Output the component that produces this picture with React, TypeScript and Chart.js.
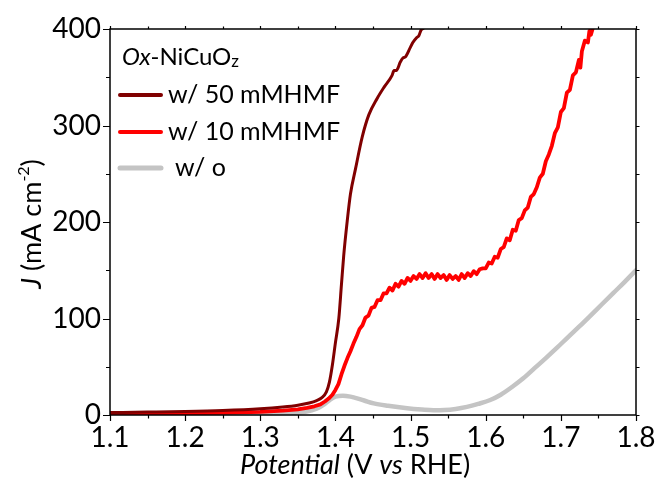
import React, { useEffect, useRef } from "react";
import { Chart, registerables } from "chart.js";

Chart.register(...registerables);

const FONT = 'Lato, "Open Sans", sans-serif';

// Potential axis (V vs RHE) and current-density axis (mA cm^-2)
const xTicks = [1.1, 1.2, 1.3, 1.4, 1.5, 1.6, 1.7, 1.8];
const yTicks = [0, 100, 200, 300, 400];

// w/ 50 mM HMF
const potential50 = [
  1.1, 1.15, 1.2, 1.25, 1.3, 1.33, 1.35, 1.365, 1.375, 1.382, 1.388, 1.392, 1.396, 1.4,
  1.4045, 1.408, 1.411, 1.4157, 1.42, 1.4267, 1.4356, 1.4444, 1.4555, 1.465, 1.4754,
  1.478, 1.481, 1.4865, 1.49, 1.493, 1.4997, 1.503, 1.508, 1.511, 1.514, 1.5174, 1.521,
];
const current50 = [
  2.5, 3.0, 3.6, 4.6, 6.4, 8.3, 10.2, 12.5, 15, 18, 24, 34, 52, 75,
  100, 135, 165, 201, 229, 255, 288, 311, 328, 340, 352,
  357, 357, 366, 370, 371, 381, 386, 391, 393, 399, 401, 406,
];

// w/ 10 mM HMF
const potential10 = [
  1.1, 1.15, 1.2, 1.25, 1.3, 1.33, 1.35, 1.362, 1.372, 1.38, 1.386, 1.391, 1.396, 1.4,
  1.404, 1.408, 1.412, 1.416, 1.42, 1.424, 1.428, 1.432, 1.436, 1.44, 1.444, 1.448,
  1.452, 1.456, 1.46, 1.464, 1.468, 1.472, 1.476, 1.48, 1.484, 1.488, 1.492, 1.496,
  1.5, 1.504, 1.508, 1.512, 1.516, 1.52, 1.524, 1.528, 1.532, 1.536, 1.54, 1.544,
  1.548, 1.552, 1.556, 1.56, 1.564, 1.568, 1.572, 1.576, 1.58, 1.584, 1.588, 1.592,
  1.596, 1.6, 1.604, 1.608, 1.612, 1.616, 1.62, 1.624, 1.628, 1.632, 1.636, 1.64,
  1.644, 1.648, 1.652, 1.656, 1.66, 1.664, 1.668, 1.672, 1.676, 1.68, 1.684, 1.688,
  1.692, 1.696, 1.7, 1.704, 1.708, 1.712, 1.716, 1.72, 1.724, 1.726, 1.728, 1.732,
  1.736, 1.738, 1.74, 1.744,
];
const current10 = [
  1.0, 1.3, 1.7, 2.3, 3.3, 4.5, 5.9, 7.3, 9.0, 11, 14, 17, 21, 26,
  32, 42, 51, 59, 66, 74, 81, 89, 93, 101, 103, 111,
  112, 119, 119, 126, 126, 132, 129, 136, 133, 139, 136, 142,
  139, 144, 141, 146, 142, 147, 142, 146, 141, 146, 142, 145,
  140, 145, 141, 144, 140, 146, 142, 147, 144, 149, 146, 151,
  152, 152, 158, 157, 164, 163, 172, 174, 183, 181, 192, 191,
  202, 204, 212, 215, 226, 229, 236, 246, 250, 263, 270, 279,
  292, 298, 314, 318, 334, 337, 352, 355, 368, 360, 377, 388,
  386, 398, 394, 405,
];

// w/o HMF
const potential0 = [
  1.1, 1.2, 1.3, 1.34, 1.36, 1.375, 1.385, 1.393, 1.4, 1.41, 1.42, 1.43, 1.44, 1.451,
  1.47, 1.4954, 1.515, 1.5307, 1.545, 1.56, 1.575, 1.59, 1.606, 1.62, 1.635, 1.65,
  1.665, 1.68, 1.6946, 1.71, 1.725, 1.7388, 1.755, 1.77, 1.785, 1.8,
];
const current0 = [
  0.3, 0.5, 1.2, 2.0, 3.4, 6.5, 11, 16, 19, 20, 19, 17, 14.5, 12,
  9.5, 7, 5.7, 5, 5.2, 6.3, 8.4, 11.5, 15.5, 21, 29, 38,
  48.5, 59, 69.5, 81, 92, 102.5, 115, 126.5, 138, 150,
];

const seriesLabels = ["w/ 50 mMHMF", "w/ 10 mMHMF", "w/ o"];
const seriesColors = ["#800000", "#ff0000", "#c4c4c4"];

type Run = { text: string; italic?: boolean; size: number; dy?: number };

function runsWidth(ctx: CanvasRenderingContext2D, runs: Run[]) {
  let w = 0;
  for (const r of runs) {
    ctx.font = `${r.italic ? "italic " : ""}${r.size}px ${FONT}`;
    w += ctx.measureText(r.text).width;
  }
  return w;
}

function drawRuns(ctx: CanvasRenderingContext2D, runs: Run[], x: number, y: number) {
  let cx = x;
  ctx.textBaseline = "alphabetic";
  ctx.textAlign = "left";
  for (const r of runs) {
    ctx.font = `${r.italic ? "italic " : ""}${r.size}px ${FONT}`;
    ctx.fillText(r.text, cx, y + (r.dy || 0));
    cx += ctx.measureText(r.text).width;
  }
}

const frameAndText = {
  id: "frameAndText",
  afterDatasetsDraw(chart: any) {
    const ctx: CanvasRenderingContext2D = chart.ctx;
    const { left, right, top, bottom } = chart.chartArea;
    const xs = chart.scales.x;
    const ys = chart.scales.y;
    ctx.save();
    ctx.strokeStyle = "#000";
    ctx.fillStyle = "#000";
    ctx.lineWidth = 1.5;
    ctx.strokeRect(left, top, right - left, bottom - top);

    ctx.lineWidth = 1.2;
    ctx.beginPath();
    // x ticks (major every 0.1 V, minor every 0.05 V), outward on bottom and top
    for (let i = 0; i <= 14; i++) {
      const v = 1.1 + i * 0.05;
      const px = Math.round(xs.getPixelForValue(v)) + 0.5;
      const len = i % 2 === 0 ? 6 : 3.5;
      ctx.moveTo(px, bottom);
      ctx.lineTo(px, bottom + len);
      ctx.moveTo(px, top);
      ctx.lineTo(px, top - (i % 2 === 0 ? 3 : 2.5));
    }
    // y ticks (major every 100, minor every 50), outward on left and right
    for (let i = 0; i <= 8; i++) {
      const v = i * 50;
      const py = Math.round(ys.getPixelForValue(v)) + 0.5;
      const len = i % 2 === 0 ? 7 : 4;
      ctx.moveTo(left, py);
      ctx.lineTo(left - len, py);
      ctx.moveTo(right, py);
      ctx.lineTo(right + 3.5, py);
    }
    ctx.stroke();

    // x-axis title
    const xt: Run[] = [
      { text: "Potential", italic: true, size: 27 },
      { text: " (V ", size: 27 },
      { text: "vs", italic: true, size: 27 },
      { text: " RHE)", size: 27 },
    ];
    const xw = runsWidth(ctx, xt);
    drawRuns(ctx, xt, 355 - xw / 2, 474);

    // y-axis title, rotated
    const yt: Run[] = [
      { text: "J", italic: true, size: 27 },
      { text: " (mA cm", size: 27 },
      { text: "-2", size: 16, dy: -12 },
      { text: ")", size: 27 },
    ];
    const yw = runsWidth(ctx, yt);
    ctx.save();
    ctx.translate(41, 224);
    ctx.rotate(-Math.PI / 2);
    drawRuns(ctx, yt, -yw / 2, 0);
    ctx.restore();

    // legend
    drawRuns(
      ctx,
      [
        { text: "Ox", italic: true, size: 24 },
        { text: "-NiCuO", size: 24 },
        { text: "z", size: 17, dy: 2 },
      ],
      122,
      65
    );
    const rowY = [95, 132, 168];
    const textX = [168, 168, 175];
    const lw = [4, 4, 5];
    for (let i = 0; i < 3; i++) {
      ctx.strokeStyle = seriesColors[i];
      ctx.lineWidth = lw[i];
      ctx.lineCap = "round";
      ctx.beginPath();
      ctx.moveTo(120, rowY[i]);
      ctx.lineTo(161, rowY[i]);
      ctx.stroke();
      ctx.fillStyle = "#000";
      drawRuns(ctx, [{ text: seriesLabels[i], size: 25 }], textX[i], rowY[i] + 8);
    }
    ctx.restore();
  },
};

function zip(xs: number[], ys: number[]) {
  return xs.map((x, i) => ({ x, y: ys[i] }));
}

export default function App() {
  const ref = useRef<HTMLCanvasElement>(null);

  useEffect(() => {
    const canvas = ref.current;
    if (!canvas) return;
    const chart = new Chart(canvas, {
      type: "line",
      data: {
        datasets: [
          {
            label: seriesLabels[0],
            data: zip(potential50, current50),
            borderColor: seriesColors[0],
            borderWidth: 3,
            cubicInterpolationMode: "monotone",
          },
          {
            label: seriesLabels[1],
            data: zip(potential10, current10),
            borderColor: seriesColors[1],
            borderWidth: 3.8,
          },
          {
            label: seriesLabels[2],
            data: zip(potential0, current0),
            borderColor: seriesColors[2],
            borderWidth: 4.5,
            cubicInterpolationMode: "monotone",
          },
        ],
      },
      options: {
        responsive: false,
        animation: false,
        events: [],
        layout: { padding: { left: 0, right: 21, top: 29, bottom: 0 } },
        elements: {
          point: { radius: 0 },
          line: { borderJoinStyle: "round", borderCapStyle: "round", tension: 0 },
        },
        plugins: { legend: { display: false }, tooltip: { enabled: false } },
        scales: {
          x: {
            type: "linear",
            min: 1.1,
            max: 1.8,
            afterFit: (s: any) => {
              s.height = 66;
              s.paddingLeft = 0;
              s.paddingRight = 0;
            },
            afterBuildTicks: (s: any) => {
              s.ticks = xTicks.map((v) => ({ value: v }));
            },
            grid: { display: false, drawTicks: false },
            border: { display: false },
            ticks: {
              padding: 6,
              color: "#000",
              font: { family: FONT, size: 28 },
              maxRotation: 0,
              callback: (v: any) => Number(v).toFixed(1),
            },
          },
          y: {
            type: "linear",
            min: 0,
            max: 400,
            afterFit: (s: any) => {
              s.width = 110;
              s.paddingTop = 0;
              s.paddingBottom = 0;
            },
            afterBuildTicks: (s: any) => {
              s.ticks = yTicks.map((v) => ({ value: v }));
            },
            grid: { display: false, drawTicks: false },
            border: { display: false },
            ticks: {
              padding: 9,
              color: "#000",
              font: { family: FONT, size: 28 },
              callback: (v: any) => String(v),
            },
          },
        },
      },
      plugins: [frameAndText],
    });
    return () => chart.destroy();
  }, []);

  return (
    <div style={{ position: "absolute", left: 0, top: 0, width: 657, height: 481, background: "#fff" }}>
      <canvas ref={ref} width={657} height={481} style={{ display: "block" }} />
    </div>
  );
}
